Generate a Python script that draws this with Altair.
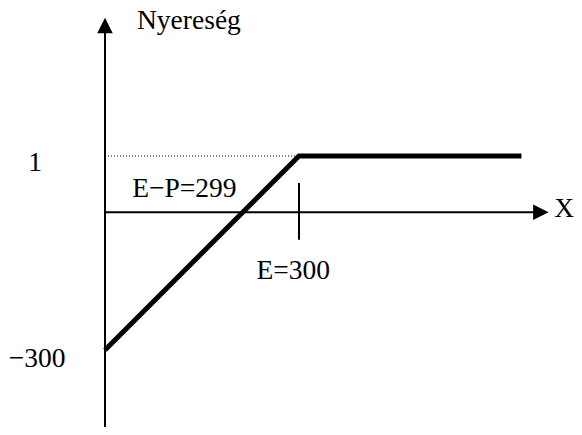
import altair as alt
import pandas as pd

# payoff line (schematic): loss -300 at X=0, kink at E=300 with profit 1
payoff_x = [0, 300, 644]
payoff_y = [-300, 1, 1]

# axes (schematic coordinates)
yaxis_x = [0]
yaxis_top = [3.32]
yaxis_bottom = [-485]
xaxis_left = [0]
xaxis_right = [674]

# dotted guide at profit = 1
guide_x = [0]
guide_x2 = [300]
guide_y = [1]

# tick at E = 300
tick_x = [300]
tick_top = [0.52]
tick_bottom = [-60]

# labels
center_labels = ["1", "−300", "E=300", "X"]
center_x = [-108, -105, 291, 710]
center_y = [0.734, -336, -145, -10.2]

left_labels = ["Nyereség", "E−P=299"]
left_x = [49.5, 42]
left_y = [3.256, 0.277]

# arrow heads
arrow_x = [0, 674]
arrow_y = [3.318, 0]
arrow_shape = ["M0,-1L1,1L-1,1Z", "M-1,-1L1,0L-1,1Z"]

xs = alt.Scale(domain=[0, 300], range=[97, 291], zero=False, nice=False)
ys = alt.Scale(domain=[-300, 0, 1], range=[342, 204.3, 148], zero=False, nice=False)

FONT = "Liberation Serif"
FS = 27.5

df_pay = pd.DataFrame({"x": payoff_x, "y": payoff_y})
line = alt.Chart(df_pay).mark_line(color="black", strokeWidth=5, strokeCap="butt", strokeJoin="miter").encode(
    x=alt.X("x:Q", scale=xs, axis=None),
    y=alt.Y("y:Q", scale=ys, axis=None),
)

df_ya = pd.DataFrame({"x": yaxis_x, "y": yaxis_top, "y2": yaxis_bottom})
yaxis = alt.Chart(df_ya).mark_rule(color="black", strokeWidth=2).encode(
    x=alt.X("x:Q", scale=xs, axis=None),
    y=alt.Y("y:Q", scale=ys, axis=None),
    y2="y2:Q",
)

df_xa = pd.DataFrame({"x": xaxis_left, "x2": xaxis_right, "y": [0]})
xaxis = alt.Chart(df_xa).mark_rule(color="black", strokeWidth=2).encode(
    x=alt.X("x:Q", scale=xs, axis=None),
    x2="x2:Q",
    y=alt.Y("y:Q", scale=ys, axis=None),
)

df_g = pd.DataFrame({"x": guide_x, "x2": guide_x2, "y": guide_y})
guide = alt.Chart(df_g).mark_rule(color="black", strokeWidth=1, strokeDash=[1, 2]).encode(
    x=alt.X("x:Q", scale=xs, axis=None),
    x2="x2:Q",
    y=alt.Y("y:Q", scale=ys, axis=None),
)

df_t = pd.DataFrame({"x": tick_x, "y": tick_top, "y2": tick_bottom})
tick = alt.Chart(df_t).mark_rule(color="black", strokeWidth=2).encode(
    x=alt.X("x:Q", scale=xs, axis=None),
    y=alt.Y("y:Q", scale=ys, axis=None),
    y2="y2:Q",
)

arrows = []
for ax_, ay_, sh in zip(arrow_x, arrow_y, arrow_shape):
    arrows.append(
        alt.Chart(pd.DataFrame({"x": [ax_], "y": [ay_]})).mark_point(
            shape=sh, filled=True, color="black", size=240, opacity=1, strokeWidth=0
        ).encode(
            x=alt.X("x:Q", scale=xs, axis=None),
            y=alt.Y("y:Q", scale=ys, axis=None),
        )
    )

df_cl = pd.DataFrame({"x": center_x, "y": center_y, "t": center_labels})
ctext = alt.Chart(df_cl).mark_text(font=FONT, fontSize=FS, color="black", align="center", baseline="alphabetic").encode(
    x=alt.X("x:Q", scale=xs, axis=None),
    y=alt.Y("y:Q", scale=ys, axis=None),
    text="t:N",
)

df_ll = pd.DataFrame({"x": left_x, "y": left_y, "t": left_labels})
ltext = alt.Chart(df_ll).mark_text(font=FONT, fontSize=FS, color="black", align="left", baseline="alphabetic").encode(
    x=alt.X("x:Q", scale=xs, axis=None),
    y=alt.Y("y:Q", scale=ys, axis=None),
    text="t:N",
)

chart = alt.layer(guide, yaxis, xaxis, tick, line, *arrows, ctext, ltext).properties(
    width=566, height=419, autosize=alt.AutoSizeParams(type="none"), padding=0,
    background="white",
).configure_view(stroke=None)

chart.save("out.html", embed_options={"renderer": "svg", "actions": False})
